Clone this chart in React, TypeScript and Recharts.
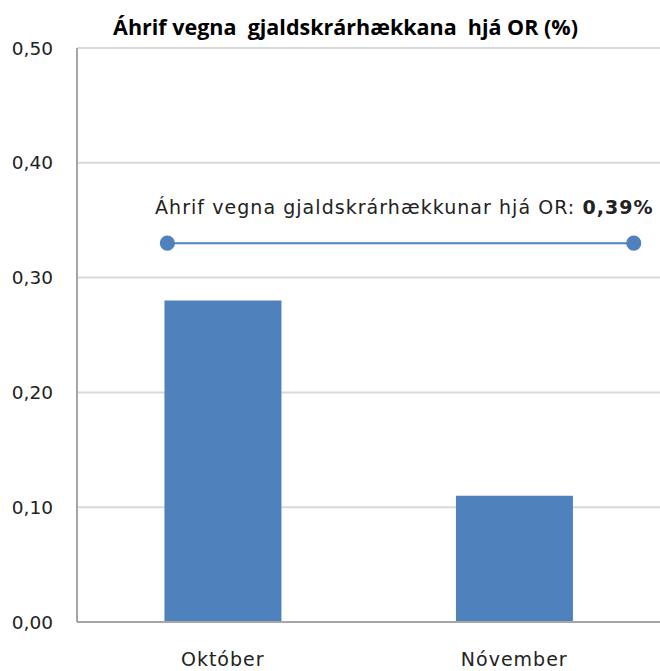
import React from 'react';
import {
  ComposedChart, Bar, Scatter, XAxis, YAxis, ZAxis, CartesianGrid,
} from 'recharts';

// values
const months = ['Október', 'Nóvember'];
const impact = [0.28, 0.11];
const yTicks = [0, 0.1, 0.2, 0.3, 0.4, 0.5];

// total impact line: position along the category axis (0..2) and value
const linePos = [0.31, 1.91];
const lineValue = [0.33, 0.33];
const totalLabel = '0,39%';

const BLUE = '#4f81bd';
const FONT = '"DejaVu Sans", Verdana, sans-serif';

const barData = months.map((m, i) => ({ name: m, value: impact[i] }));
const lineData = linePos.map((p, i) => ({ pos: p, lv: lineValue[i] }));

const fmt = (v: number) => v.toFixed(2).replace('.', ',');

const App: React.FC = () => {
  return (
    <div style={{ position: 'absolute', left: 0, top: 0, width: 660, height: 671, background: '#fff' }}>
      <div
        style={{
          position: 'absolute', left: 0, top: 12, width: 691, textAlign: 'center',
          fontFamily: '"Open Sans", sans-serif', fontWeight: 700,
          fontSize: 21.5, color: '#000', whiteSpace: 'pre', letterSpacing: 0,
        }}
      >
        {'Áhrif vegna  gjaldskrárhækkana  hjá OR (%)'}
      </div>
      <div
        style={{
          position: 'absolute', left: 155, top: 196, fontFamily: FONT, fontSize: 19,
          color: '#222', whiteSpace: 'pre', letterSpacing: 1.05,
        }}
      >
        Áhrif vegna gjaldskrárhækkunar hjá OR: <b>{totalLabel}</b>
      </div>
      <ComposedChart
        width={660}
        height={671}
        data={barData}
        margin={{ top: 48, right: 0, bottom: 0, left: 0 }}
        barCategoryGap="30%"
      >
        <CartesianGrid horizontal vertical={false} stroke="#d9d9d9" strokeWidth={2} />
        <XAxis
          dataKey="name"
          height={49}
          stroke="#a6a6a6"
          strokeWidth={2}
          tickLine={false}
          tickSize={0}
          tickMargin={31}
          tick={{ fill: '#222', fontSize: 19, fontFamily: FONT, letterSpacing: 1 }}
        />
        <XAxis xAxisId="pos" dataKey="pos" type="number" domain={[0, 2]} hide />
        <YAxis
          width={77}
          domain={[0, 0.5]}
          ticks={yTicks}
          tickFormatter={fmt}
          stroke="#a6a6a6"
          strokeWidth={2}
          tickLine={false}
          tickSize={0}
          tickMargin={24}
          tick={{ fill: '#222', fontSize: 18.5, fontFamily: FONT }}
        />
        <YAxis yAxisId="lv" dataKey="lv" domain={[0, 0.5]} hide />
        <ZAxis range={[180, 180]} />
        <Bar dataKey="value" fill={BLUE} isAnimationActive={false} />
        <Scatter
          data={lineData}
          xAxisId="pos"
          yAxisId="lv"
          dataKey="lv"
          fill={BLUE}
          line={{ stroke: BLUE, strokeWidth: 2 }}
          isAnimationActive={false}
        />
      </ComposedChart>
    </div>
  );
};

export default App;
